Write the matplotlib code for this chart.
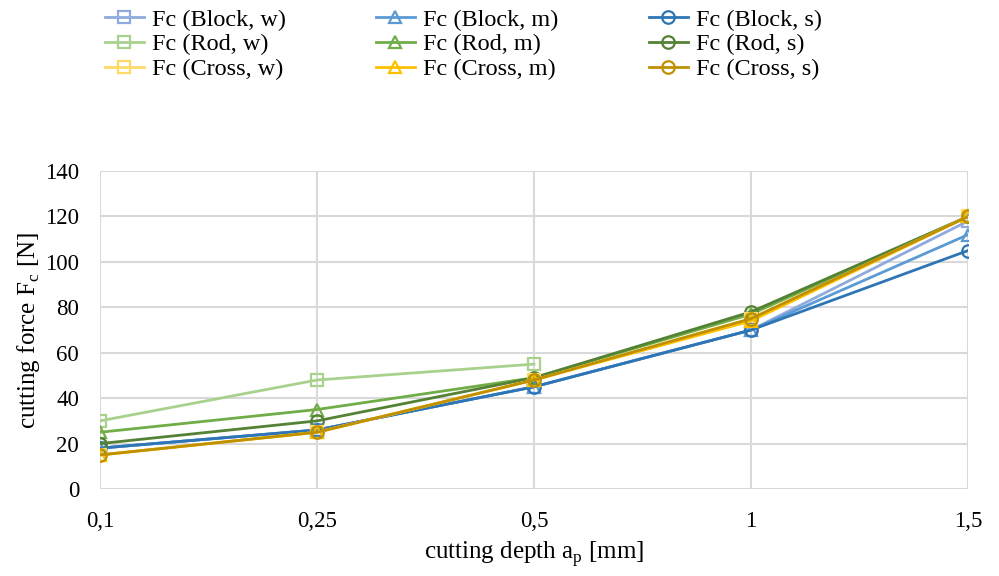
import numpy as np
import matplotlib
matplotlib.use('Agg')
import matplotlib.pyplot as plt

# cutting depth categories and cutting force values [N]
depth_labels = ['0,1', '0,25', '0,5', '1', '1,5']

fc_block_w = [18, 26, 45, 70, 118]
fc_block_m = [18, 26, 45, 70, 112]
fc_block_s = [18, 26, 45, 70, 105]
fc_rod_w = [30, 48, 55, np.nan, np.nan]
fc_rod_m = [25, 35, 49, 77, 120]
fc_rod_s = [20, 30, 49, 78, 120]
fc_cross_w = [15, 25, 48, 75, 120]
fc_cross_m = [15, 25, 48, 74, 120]
fc_cross_s = [15, 25, 48, 75, 120]

plt.rcParams['font.family'] = ['Liberation Serif', 'DejaVu Serif']
plt.rcParams['mathtext.fontset'] = 'custom'
plt.rcParams['mathtext.rm'] = 'Liberation Serif'

series = [
    ('Fc (Block, w)', fc_block_w, '#8faadc', 's'),
    ('Fc (Block, m)', fc_block_m, '#5b9bd5', '^'),
    ('Fc (Block, s)', fc_block_s, '#2e75b6', 'o'),
    ('Fc (Rod, w)', fc_rod_w, '#a9d18e', 's'),
    ('Fc (Rod, m)', fc_rod_m, '#70ad47', '^'),
    ('Fc (Rod, s)', fc_rod_s, '#548235', 'o'),
    ('Fc (Cross, w)', fc_cross_w, '#ffd966', 's'),
    ('Fc (Cross, m)', fc_cross_m, '#ffc000', '^'),
    ('Fc (Cross, s)', fc_cross_s, '#bf9000', 'o'),
]

fig = plt.figure(figsize=(9.99, 5.76), dpi=100)
ax = fig.add_axes([0.1, 0.151, 0.869, 0.552])

x = np.arange(len(depth_labels))
handles = []
for name, vals, col, mk in series:
    h, = ax.plot(x, vals, color=col, marker=mk, markersize=9, markerfacecolor='none',
                 markeredgewidth=1.6, linewidth=2.0, label=name)
    handles.append(h)

ax.set_xlim(0, len(depth_labels) - 1)
ax.set_ylim(0, 140)
ax.set_yticks(np.arange(0, 141, 20))
ax.set_xticks(x)
ax.set_xticklabels(depth_labels)
ax.tick_params(labelsize=16.5, length=0)
ax.tick_params(axis='x', pad=16)
ax.tick_params(axis='y', pad=15)
ax.grid(True, color='#d9d9d9', linewidth=1.5)
ax.set_axisbelow(True)
for sp in ax.spines.values():
    sp.set_visible(False)

ax.set_ylabel(r'cutting force F$_\mathregular{c}$ [N]', fontsize=18, labelpad=2)
ax.set_xlabel(r'cutting depth a$_\mathregular{p}$ [mm]', fontsize=18, labelpad=5)

# legend filled row by row (matplotlib fills columns first)
order = [0, 3, 6, 1, 4, 7, 2, 5, 8]
fig.legend([handles[i] for i in order], [series[i][0] for i in order],
           loc='upper left', bbox_to_anchor=(0.095, 1.002), ncol=3, fontsize=17.5,
           frameon=False, handlelength=1.6, columnspacing=3.7, labelspacing=0.12,
           handletextpad=0.35, borderaxespad=0.0)

fig.savefig('out.png', dpi=100)
